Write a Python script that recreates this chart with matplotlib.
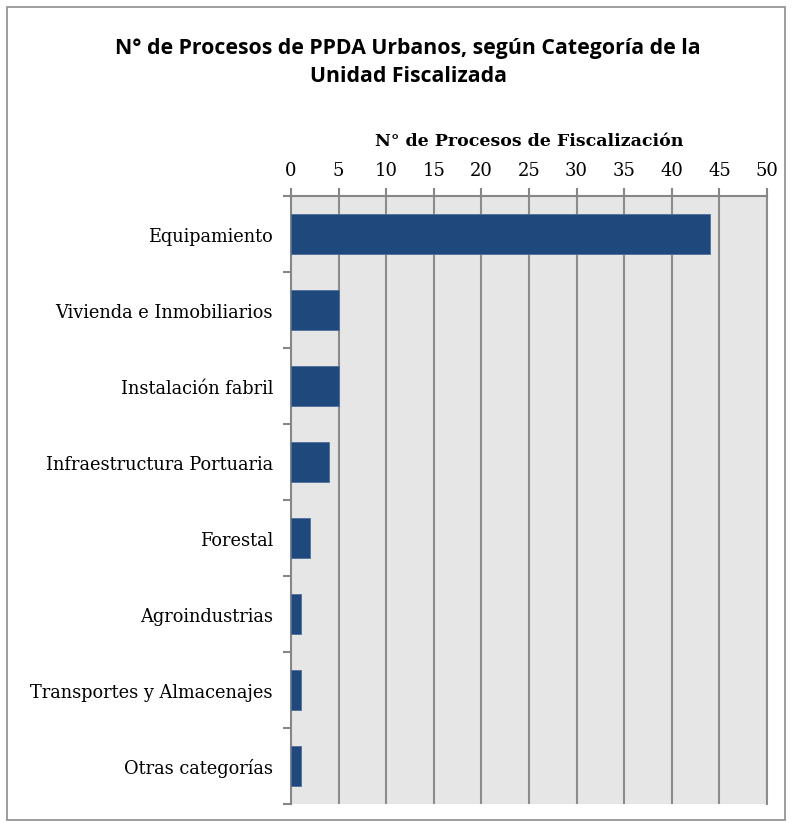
import matplotlib.pyplot as plt
from matplotlib.patches import Rectangle

categorias = ["Equipamiento", "Vivienda e Inmobiliarios", "Instalación fabril",
              "Infraestructura Portuaria", "Forestal", "Agroindustrias",
              "Transportes y Almacenajes", "Otras categorías"]
procesos = [44, 5, 5, 4, 2, 1, 1, 1]
ticks_x = [0, 5, 10, 15, 20, 25, 30, 35, 40, 45, 50]

fig = plt.figure(figsize=(7.94, 8.29), dpi=100)
fig.patches.append(Rectangle((0.009, 0.01), 0.98, 0.98, transform=fig.transFigure,
                             fill=False, edgecolor="#8c8c8c", linewidth=1.2))

ax = fig.add_axes([0.3665, 0.029, 0.5995, 0.7335])
ax.set_facecolor("#e6e6e6")

pos = list(range(len(categorias)))
ax.barh(pos, procesos, height=0.52, color="#1f497d", edgecolor="#4f6f9a",
        linewidth=0.6, zorder=3)
ax.set_ylim(len(categorias) - 0.5, -0.5)
ax.set_xlim(0, 50)

# x axis on top
ax.xaxis.tick_top()
ax.xaxis.set_label_position("top")
ax.set_xticks(ticks_x)
ax.set_xticklabels([str(t) for t in ticks_x], family="DejaVu Serif", fontsize=13)
ax.tick_params(axis="x", length=6, color="#868686", width=1.5, pad=6)
ax.set_xlabel("N° de Procesos de Fiscalización", family="DejaVu Serif",
              fontweight="bold", fontsize=12.5, labelpad=12)
ax.grid(axis="x", color="#8c8c8c", linewidth=1.5, zorder=1)
ax.axvline(50, color="#8c8c8c", linewidth=1.5, zorder=1, clip_on=False)

# category labels centered, ticks at the boundaries
ax.set_yticks(pos)
ax.set_yticklabels(categorias, family="DejaVu Serif", fontsize=12.8)
ax.tick_params(axis="y", length=0, pad=13)
ax.set_yticks([p + 0.5 for p in [-1] + pos], minor=True)
ax.tick_params(axis="y", which="minor", length=6, color="#868686", width=1.5)

for s in ["right", "bottom"]:
    ax.spines[s].set_visible(False)
for s in ["left", "top"]:
    ax.spines[s].set_color("#868686")
    ax.spines[s].set_linewidth(1.5)

fig.text(0.514, 0.925, "N° de Procesos de PPDA Urbanos, según Categoría de la\nUnidad Fiscalizada",
         ha="center", va="center", fontsize=15.3, fontweight="bold",
         family="Open Sans", linespacing=1.42)

fig.savefig("out.png", dpi=100)
